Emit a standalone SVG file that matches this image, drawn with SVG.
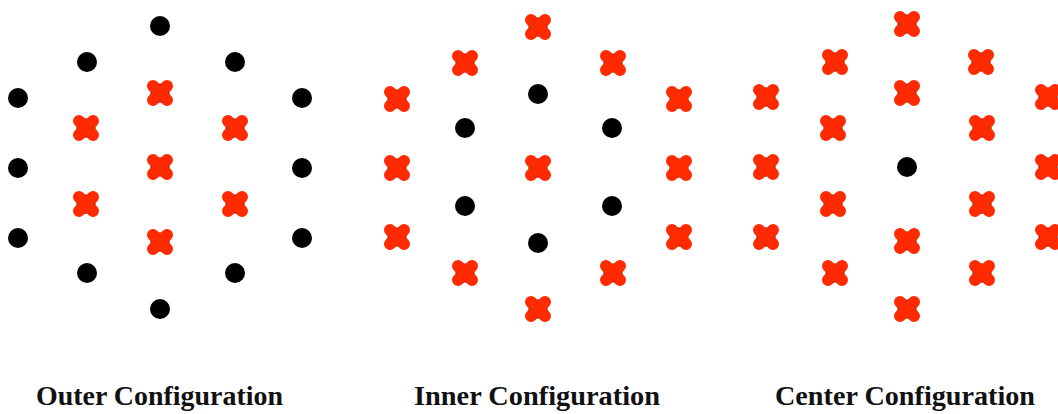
<svg xmlns="http://www.w3.org/2000/svg" xmlns:xlink="http://www.w3.org/1999/xlink" width="1058" height="414" viewBox="0 0 1058 414">
<style>
.dot{fill:#000}
.x{stroke:#ff2a00;stroke-width:12;stroke-linecap:round;fill:none}
.lbl{font-family:"Liberation Serif","Times New Roman",serif;font-weight:bold;font-size:28px;fill:#111}
</style>
<defs>
<g id="D"><circle r="10" class="dot"/></g>
<g id="X"><circle r="9.5" class="dot"/><path class="x" d="M-7,-7L7,7M7,-7L-7,7"/></g>
</defs>
<rect width="1058" height="414" fill="#fff"/>
<g id="outer">
<use xlink:href="#D" x="160" y="26"/>
<use xlink:href="#D" x="87" y="62"/><use xlink:href="#D" x="235" y="62"/>
<use xlink:href="#D" x="18" y="98"/><use xlink:href="#D" x="302" y="98"/>
<use xlink:href="#X" x="160" y="93"/>
<use xlink:href="#X" x="86" y="128"/><use xlink:href="#X" x="235" y="128"/>
<use xlink:href="#D" x="18" y="168"/><use xlink:href="#X" x="160" y="167"/><use xlink:href="#D" x="302" y="168"/>
<use xlink:href="#X" x="86" y="204"/><use xlink:href="#X" x="235" y="204"/>
<use xlink:href="#D" x="18" y="238"/><use xlink:href="#D" x="302" y="238"/>
<use xlink:href="#X" x="160" y="242"/>
<use xlink:href="#D" x="87" y="273"/><use xlink:href="#D" x="235" y="273"/>
<use xlink:href="#D" x="160" y="309"/>
<text class="lbl" x="36" y="405" textLength="247" lengthAdjust="spacingAndGlyphs">Outer Configuration</text>
</g>
<g id="inner">
<use xlink:href="#X" x="538" y="27"/>
<use xlink:href="#X" x="465" y="63"/><use xlink:href="#X" x="613" y="63"/>
<use xlink:href="#X" x="397" y="99"/><use xlink:href="#X" x="679" y="99"/>
<use xlink:href="#D" x="538" y="94"/>
<use xlink:href="#D" x="465" y="128"/><use xlink:href="#D" x="612" y="128"/>
<use xlink:href="#X" x="397" y="168"/><use xlink:href="#X" x="538" y="168"/><use xlink:href="#X" x="679" y="168"/>
<use xlink:href="#D" x="465" y="206"/><use xlink:href="#D" x="612" y="206"/>
<use xlink:href="#X" x="397" y="237"/><use xlink:href="#X" x="679" y="237"/>
<use xlink:href="#D" x="538" y="243"/>
<use xlink:href="#X" x="465" y="273"/><use xlink:href="#X" x="613" y="273"/>
<use xlink:href="#X" x="538" y="309"/>
<text class="lbl" x="414" y="405" textLength="246" lengthAdjust="spacingAndGlyphs">Inner Configuration</text>
</g>
<g id="center">
<use xlink:href="#X" x="907" y="24"/>
<use xlink:href="#X" x="835" y="62"/><use xlink:href="#X" x="981" y="62"/>
<use xlink:href="#X" x="766" y="97"/><use xlink:href="#X" x="1048" y="97"/>
<use xlink:href="#X" x="907" y="93"/>
<use xlink:href="#X" x="833" y="128"/><use xlink:href="#X" x="982" y="128"/>
<use xlink:href="#X" x="766" y="167"/><use xlink:href="#D" x="907" y="167"/><use xlink:href="#X" x="1048" y="167"/>
<use xlink:href="#X" x="833" y="204"/><use xlink:href="#X" x="982" y="204"/>
<use xlink:href="#X" x="766" y="237"/><use xlink:href="#X" x="1048" y="237"/>
<use xlink:href="#X" x="907" y="241"/>
<use xlink:href="#X" x="835" y="273"/><use xlink:href="#X" x="982" y="273"/>
<use xlink:href="#X" x="907" y="309"/>
<text class="lbl" x="775" y="405" textLength="260" lengthAdjust="spacingAndGlyphs">Center Configuration</text>
</g>
<g id="connectors"/>
</svg>
